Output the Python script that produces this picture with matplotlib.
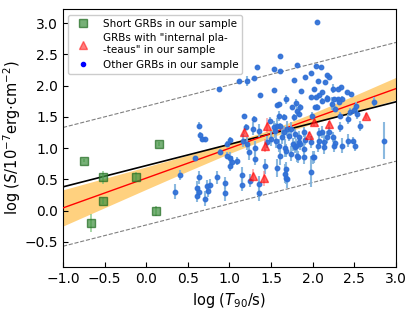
import numpy as np
import matplotlib
matplotlib.use('Agg')
import matplotlib.pyplot as plt
from matplotlib.lines import Line2D

# Short GRBs
short_x = [-0.75, -0.66, -0.52, -0.52, -0.12, 0.12, 0.15]
short_y = [0.80, -0.20, 0.53, 0.15, 0.53, 0.00, 1.06]
short_err = [0.03, 0.15, 0.10, 0.05, 0.08, 0.08, 0.03]

# GRBs with internal plateaus
plat_x = [1.17, 1.45, 1.43, 1.28, 1.41, 2.02, 2.20, 1.95, 2.64]
plat_y = [1.26, 1.36, 1.04, 0.56, 0.52, 1.41, 1.38, 1.21, 1.51]
plat_err = [0.03, 0.12, 0.10, 0.10, 0.12, 0.05, 0.05, 0.05, 0.05]

# Other GRBs
other_x = [0.87, 1.12, 1.21, 1.30, 1.33, 1.61, 1.53, 1.61, 1.81, 2.04,
           2.10, 1.98, 1.91, 2.17, 2.19, 1.78, 2.06, 2.15, 1.53, 1.86,
           2.01, 2.11, 2.24, 2.31, 2.34, 2.41, 2.46, 2.08, 2.04, 1.68,
           1.80, 1.98, 2.17, 2.25, 2.30, 2.32, 1.75, 2.03, 2.23, 2.74,
           1.57, 1.37, 1.60, 2.05, 1.59, 1.81, 1.17, 1.29, 1.28, 1.49,
           1.57, 1.61, 1.66, 1.78, 1.83, 1.99, 2.05, 2.11, 2.17, 2.27,
           2.35, 2.50, 2.53, 2.33, 2.43, 2.57, 2.86, 2.49, 2.51, 2.35,
           2.25, 2.17, 2.13, 1.84, 1.80, 1.76, 1.72, 1.69, 1.65, 1.53,
           1.20, 1.16, 1.01, 0.97, 0.89, 0.63, 0.65, 0.67, 0.70, 1.89,
           2.07, 1.60, 1.68, 0.59, 0.97, 1.01, 1.03, 1.01, 1.09, 1.23,
           1.31, 1.31, 1.35, 1.21, 1.45, 1.50, 1.55, 1.63, 1.67, 1.74,
           1.61, 1.57, 1.67, 1.69, 1.79, 1.83, 1.82, 1.90, 1.89, 1.98,
           2.01, 2.06, 2.11, 2.19, 0.63, 0.61, 0.63, 0.61, 0.73, 0.74,
           0.71, 0.77, 0.85, 0.95, 0.95, 1.15, 1.15, 1.25, 1.35, 1.35,
           1.43, 1.68, 1.68, 1.81, 2.00, 0.35, 0.41, 2.45, 2.33, 2.24,
           2.08, 1.98, 1.91, 1.85, 1.79, 1.74, 1.56, 2.13, 2.27, 2.43,
           2.52, 1.85]
other_y = [1.95, 2.07, 2.08, 2.12, 2.30, 2.47, 2.26, 2.23, 2.33, 2.31,
           2.30, 2.20, 2.14, 2.17, 2.14, 2.09, 2.08, 2.06, 1.93, 1.91,
           1.94, 1.90, 1.95, 1.95, 1.98, 1.90, 1.87, 1.85, 1.81, 1.78,
           1.72, 1.81, 1.79, 1.79, 1.78, 1.74, 1.66, 1.66, 1.71, 1.74,
           1.69, 1.85, 1.71, 3.02, 1.52, 1.59, 1.52, 1.46, 1.31, 1.44,
           1.36, 1.35, 1.50, 1.49, 1.55, 1.52, 1.66, 1.75, 1.80, 1.63,
           1.79, 1.61, 1.55, 1.52, 1.47, 1.36, 1.12, 1.12, 1.04, 1.04,
           1.04, 1.18, 1.10, 1.10, 1.04, 1.06, 1.20, 1.31, 1.26, 1.34,
           1.34, 1.12, 1.13, 1.07, 0.94, 1.36, 1.21, 1.15, 1.14, 1.26,
           1.24, 1.04, 0.96, 0.84, 0.88, 0.84, 0.78, 0.71, 0.79, 0.93,
           1.00, 0.83, 1.28, 1.07, 1.10, 1.15, 1.28, 1.18, 1.00, 0.91,
           0.88, 0.68, 0.59, 0.51, 1.02, 1.18, 0.86, 0.86, 0.99, 0.62,
           0.86, 1.03, 1.26, 1.26, 0.53, 0.36, 0.30, 0.24, 0.39, 0.32,
           0.19, 0.41, 0.53, 0.44, 0.28, 0.57, 0.41, 0.48, 0.43, 0.28,
           0.71, 0.66, 0.52, 0.87, 0.85, 0.30, 0.57, 1.58, 1.34, 1.17,
           1.11, 1.10, 1.13, 1.07, 1.23, 1.31, 1.12, 1.01, 1.08, 1.12,
           1.67, 1.65]
other_err = [0.02, 0.02, 0.08, 0.02, 0.02, 0.02, 0.02, 0.02, 0.02, 0.02,
             0.02, 0.02, 0.02, 0.02, 0.02, 0.02, 0.02, 0.02, 0.02, 0.02,
             0.02, 0.02, 0.07, 0.02, 0.02, 0.02, 0.02, 0.02, 0.02, 0.07,
             0.06, 0.02, 0.02, 0.02, 0.02, 0.03, 0.03, 0.03, 0.10, 0.07,
             0.03, 0.03, 0.03, 0.02, 0.08, 0.07, 0.03, 0.05, 0.10, 0.05,
             0.12, 0.05, 0.05, 0.05, 0.05, 0.05, 0.05, 0.05, 0.05, 0.05,
             0.05, 0.05, 0.08, 0.05, 0.08, 0.08, 0.30, 0.06, 0.08, 0.12,
             0.10, 0.10, 0.15, 0.06, 0.10, 0.10, 0.08, 0.12, 0.10, 0.10,
             0.05, 0.10, 0.05, 0.05, 0.05, 0.05, 0.05, 0.05, 0.04, 0.08,
             0.08, 0.10, 0.10, 0.04, 0.06, 0.10, 0.10, 0.08, 0.06, 0.12,
             0.12, 0.10, 0.10, 0.10, 0.10, 0.12, 0.12, 0.12, 0.15, 0.12,
             0.15, 0.15, 0.15, 0.15, 0.10, 0.10, 0.10, 0.12, 0.12, 0.25,
             0.10, 0.10, 0.10, 0.08, 0.10, 0.12, 0.10, 0.10, 0.10, 0.10,
             0.12, 0.10, 0.10, 0.10, 0.12, 0.12, 0.10, 0.10, 0.12, 0.12,
             0.12, 0.12, 0.10, 0.10, 0.10, 0.12, 0.08, 0.06, 0.08, 0.08,
             0.08, 0.10, 0.08, 0.10, 0.08, 0.10, 0.12, 0.10, 0.10, 0.10,
             0.06, 0.06]

# fits: black (all), red (long GRBs) with confidence band, dashed = black +/- 3 sigma
line_x = [-1.0, 3.0]
black_a, black_b = 0.72, 0.34
red_a, red_b = 0.52, 0.477
sigma_off = 0.95
band_x = [-1.0, -0.5, 0.0, 0.5, 1.0, 1.5, 2.0, 2.5, 3.0]
band_hw = [0.29, 0.235, 0.18, 0.128, 0.083, 0.06, 0.083, 0.128, 0.18]

fig = plt.figure(figsize=(4.15, 3.11), dpi=100)
ax = fig.add_axes([0.152, 0.142, 0.802, 0.828])

lx = np.array(line_x)
bx = np.array(band_x)
red_band = red_a + red_b * bx
ax.fill_between(bx, red_band - np.array(band_hw), red_band + np.array(band_hw),
                color='orange', alpha=0.5, lw=0, zorder=1)
ax.plot(lx, black_a + black_b * lx, color='k', lw=1.2, zorder=2)
ax.plot(lx, red_a + red_b * lx, color='red', lw=1.0, zorder=3)
ax.plot(lx, black_a + black_b * lx + sigma_off, color='gray', ls='--', lw=0.8, zorder=2)
ax.plot(lx, black_a + black_b * lx - sigma_off, color='gray', ls='--', lw=0.8, zorder=2)

ax.errorbar(other_x, other_y, yerr=other_err, fmt='o', ms=3.2, color='#2f6fd6',
            ecolor='#7fb2dc', elinewidth=1.5, alpha=0.9, zorder=4)
ax.errorbar(plat_x, plat_y, yerr=plat_err, fmt='^', ms=6, color='red',
            ecolor='#ff7070', elinewidth=1.2, alpha=0.6, zorder=5)
ax.errorbar(short_x, short_y, yerr=short_err, fmt='s', ms=6, mfc='#3d8f3d',
            mec='#1f6a1f', ecolor='#6fbf6f', elinewidth=1.2, alpha=0.7, zorder=5)

handles = [
    Line2D([], [], ls='', marker='s', ms=6, mfc='#3d8f3d', mec='#1f6a1f', alpha=0.7),
    Line2D([], [], ls='', marker='^', ms=6, color='red', alpha=0.5),
    Line2D([], [], ls='', marker='o', ms=3, color='blue'),
]
labels = ['Short GRBs in our sample',
          'GRBs with "internal pla-\n-teaus" in our sample',
          'Other GRBs in our sample']
ax.legend(handles, labels, loc='upper left', fontsize=7.5, handletextpad=0.9,
          borderpad=0.4, labelspacing=0.45, framealpha=1)

ax.set_xlim(-1.0, 3.0)
ax.set_ylim(-0.9, 3.22)
ax.set_xticks(np.arange(-1.0, 3.01, 0.5))
ax.set_yticks(np.arange(-0.5, 3.01, 0.5))
ax.tick_params(direction='in', labelsize=10)
ax.set_xlabel(r'log $(T_{90}$/s)', fontsize=10.5)
ax.set_ylabel(r'log $(S/10^{-7}$erg$\cdot$cm$^{-2})$', fontsize=10.5, labelpad=1)

plt.savefig('out.png', dpi=100)
